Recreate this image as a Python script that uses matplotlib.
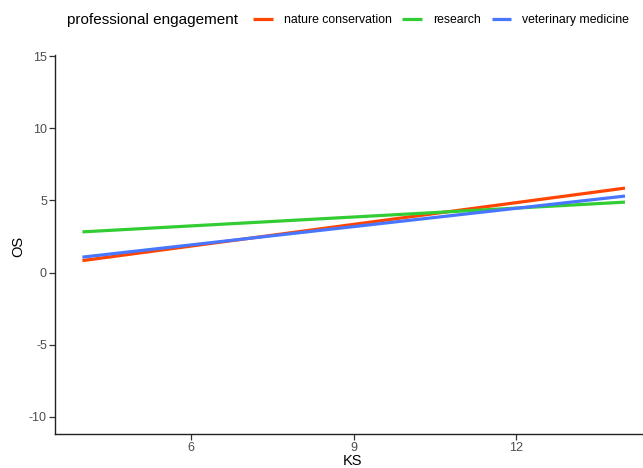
import matplotlib
matplotlib.use("Agg")
import matplotlib.pyplot as plt

plt.rcParams['font.family'] = ['Liberation Sans', 'DejaVu Sans']
plt.rcParams['axes.unicode_minus'] = False

# fitted lines per professional group (KS -> OS)
ks_range = [4, 14]
groups = ['nature conservation', 'research', 'veterinary medicine']
os_fit = {
    'nature conservation': [0.83, 5.85],
    'research': [2.82, 4.88],
    'veterinary medicine': [1.07, 5.30],
}
colors = {
    'nature conservation': '#FF4500',
    'research': '#32CD32',
    'veterinary medicine': '#4876FF',
}
x_ticks = [6, 9, 12]
y_ticks = [-10, -5, 0, 5, 10, 15]

W, H = 643, 468
fig = plt.figure(figsize=(W / 100, H / 100), dpi=100)
ax = fig.add_axes([55.3 / W, 1 - 434 / H, 1 - 55.3 / W, (434 - 55) / H])

for g in groups:
    ax.plot(ks_range, os_fit[g], color=colors[g], lw=2.3, label=g,
            solid_capstyle='butt')

ax.set_xlim(3.5, 14 + (643 - 625) / 54.2)
ax.set_ylim(-11.18, 15.07)
ax.set_xticks(x_ticks)
ax.set_yticks(y_ticks)

for s in ['top', 'right']:
    ax.spines[s].set_visible(False)
for s in ['left', 'bottom']:
    ax.spines[s].set_color('#222222')
    ax.spines[s].set_linewidth(1.0)
ax.tick_params(length=4, width=0.9, color='#333333', labelcolor='#4D4D4D',
               labelsize=9, pad=2)

ax.set_xlabel('KS', fontsize=10.5, va='center')
ax.set_ylabel('OS', fontsize=10.5, va='center')
ax.xaxis.set_label_coords(0.5 + 3 / (W - 55.3), -(461 - 434) / 379)
ax.yaxis.set_label_coords(-(55.3 - 18.5) / (W - 55.3), (434 - 246) / 379)

fig.text(67 / W, 1 - 20 / H, 'professional engagement', fontsize=11,
         ha='left', va='center')
handles, labels = ax.get_legend_handles_labels()
fig.legend(handles, labels, ncol=3, loc='center left',
           bbox_to_anchor=(253 / W, 1 - 20 / H), frameon=False,
           fontsize=8.8, borderpad=0, borderaxespad=0, handlelength=1.6,
           handletextpad=0.9, columnspacing=0.9)

fig.savefig('out.png', dpi=100)
